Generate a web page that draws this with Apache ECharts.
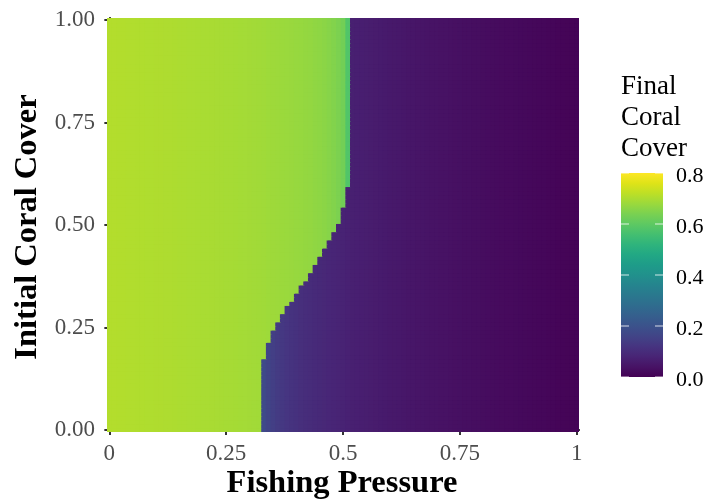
<!DOCTYPE html>
<html>
<head>
<meta charset="utf-8">
<script src="https://cdn.jsdelivr.net/npm/echarts@6/dist/echarts.min.js"></script>
<style>
  html, body { margin: 0; background: #fff; }
  #main { width: 711px; height: 502px; }
</style>
</head>
<body>
<div id="main"></div>
<script>
// grid step (both axes) is 0.01, 0..1
var gridStep = 0.01;

// final coral cover of the coral-dominated state, fishing pressure 0.00 .. 0.51
var highCover = [
  0.708, 0.708, 0.707, 0.707, 0.706, 0.706, 0.705, 0.705, 0.704, 0.704,
  0.703, 0.703, 0.702, 0.702, 0.701, 0.700, 0.700, 0.699, 0.699, 0.698,
  0.697, 0.697, 0.696, 0.695, 0.694, 0.693, 0.693, 0.692, 0.691, 0.690,
  0.689, 0.688, 0.687, 0.686, 0.684, 0.683, 0.682, 0.680, 0.679, 0.677,
  0.675, 0.674, 0.672, 0.670, 0.667, 0.664, 0.661, 0.656, 0.650, 0.642,
  0.628, 0.580
];

// final coral cover of the algae-dominated state, fishing pressure 0.33 .. 1.00
var lowStartX = 0.33;
var lowCover = [
  0.176, 0.160, 0.148, 0.138, 0.130, 0.123, 0.117,
  0.112, 0.107, 0.103, 0.099, 0.095, 0.092, 0.089, 0.086, 0.083, 0.080,
  0.077, 0.074, 0.071, 0.069, 0.067, 0.065, 0.063, 0.061, 0.059, 0.057,
  0.055, 0.053, 0.052, 0.050, 0.048, 0.047, 0.045, 0.044, 0.042, 0.041,
  0.039, 0.038, 0.037, 0.035, 0.034, 0.033, 0.031, 0.030, 0.029, 0.028,
  0.026, 0.025, 0.024, 0.023, 0.022, 0.021, 0.020, 0.019, 0.018, 0.017,
  0.016, 0.015, 0.014, 0.013, 0.012, 0.011, 0.010, 0.009, 0.008, 0.007,
  0.006
];

// tipping point: rows up to boundaryYMax[k] collapse from fishing pressure boundaryX[k]
var boundaryYMax = [0.17, 0.21, 0.24, 0.26, 0.28, 0.30, 0.31, 0.33, 0.35, 0.36,
                    0.38, 0.40, 0.42, 0.44, 0.46, 0.48, 0.50, 0.54, 0.59, 1.00];
var boundaryX    = [0.33, 0.34, 0.35, 0.36, 0.37, 0.38, 0.39, 0.40, 0.41, 0.42,
                    0.43, 0.44, 0.45, 0.46, 0.47, 0.48, 0.49, 0.50, 0.51, 0.52];

var xTicks = [0, 0.25, 0.5, 0.75, 1];
var yTicks = [0, 0.25, 0.5, 0.75, 1];
var legendTicks = [0, 0.2, 0.4, 0.6, 0.8];

var viridis = ['#440154', '#471365', '#482475', '#463480', '#414487', '#3b528b',
  '#355f8d', '#2f6c8e', '#2a788e', '#25848e', '#21918c', '#1e9c89', '#22a884',
  '#2fb47c', '#44bf70', '#5ec962', '#7ad151', '#9bd93c', '#bddf26', '#dfe318', '#fde725'];

// build cells
var cells = [];
for (var r = 0; r <= 100; r++) {
  var y = r / 100;
  var startX = boundaryX[boundaryX.length - 1];
  for (var k = 0; k < boundaryYMax.length; k++) {
    if (y <= boundaryYMax[k] + 1e-9) { startX = boundaryX[k]; break; }
  }
  var startCol = Math.round(startX * 100);
  var lowCol0 = Math.round(lowStartX * 100);
  for (var c = 0; c <= 100; c++) {
    var v = c < startCol ? highCover[c] : lowCover[c - lowCol0];
    cells.push([c / 100, y, v]);
  }
}

var serif = '"Liberation Serif", "Times New Roman", serif';

function renderCell(params, api) {
  var x = api.value(0), y = api.value(1);
  var p0 = api.coord([x - gridStep / 2, y + gridStep / 2]);
  var p1 = api.coord([x + gridStep / 2, y - gridStep / 2]);
  return {
    type: 'rect',
    shape: { x: p0[0], y: p0[1], width: p1[0] - p0[0] + 1, height: p1[1] - p0[1] + 1 },
    style: { fill: api.visual('color') }
  };
}

// colour bar (legend)
var barX = 621, barY = 173, barW = 42, barH = 204, barMax = 0.8;
var stops = viridis.map(function (col, i) {
  return { offset: i / (viridis.length - 1), color: col };
});
var graphics = [
  {
    type: 'rect', left: barX, top: barY,
    shape: { width: barW, height: barH },
    style: { fill: { type: 'linear', x: 0, y: 1, x2: 0, y2: 0, colorStops: stops } }
  },
  {
    type: 'text', x: 621, y: 71,
    style: { text: 'Final\nCoral\nCover', font: '27px ' + serif, fill: '#000',
             lineHeight: 31, textVerticalAlign: 'top' }
  },
  {
    type: 'text', x: 342, y: 484,
    style: { text: 'Fishing Pressure', font: 'bold 32.5px ' + serif, fill: '#000',
             textAlign: 'center', textVerticalAlign: 'middle' }
  },
  {
    type: 'text', x: 28, y: 227, rotation: Math.PI / 2,
    style: { text: 'Initial Coral Cover', font: 'bold 32.5px ' + serif, fill: '#000',
             textAlign: 'center', textVerticalAlign: 'middle' }
  }
];
legendTicks.forEach(function (t) {
  var ty = barY + barH - t / barMax * barH;
  graphics.push({ type: 'line', shape: { x1: barX, y1: ty, x2: barX + 8, y2: ty },
                  style: { stroke: 'rgba(255,255,255,0.8)', lineWidth: 1 } });
  graphics.push({ type: 'line', shape: { x1: barX + barW - 8, y1: ty, x2: barX + barW, y2: ty },
                  style: { stroke: 'rgba(255,255,255,0.8)', lineWidth: 1 } });
  graphics.push({ type: 'text', x: 676, y: ty + 3,
                  style: { text: t.toFixed(1), font: '22px ' + serif, fill: '#000',
                           textVerticalAlign: 'middle' } });
});

var chart = echarts.init(document.getElementById('main'));
chart.setOption({
  animation: false,
  backgroundColor: '#fff',
  grid: { left: 107, right: 132, top: 18, bottom: 70, containLabel: false },
  xAxis: {
    type: 'value', min: -0.005, max: 1.005,
    splitLine: { show: false },
    axisLine: { lineStyle: { color: '#000', width: 2 } },
    axisTick: { customValues: xTicks, length: 5, lineStyle: { color: '#333', width: 2 } },
    axisLabel: {
      customValues: xTicks, margin: 10, color: '#4d4d4d', fontFamily: serif, fontSize: 23,
      formatter: function (v) { return String(v); }
    }
  },
  yAxis: {
    type: 'value', min: -0.005, max: 1.005,
    splitLine: { show: false },
    axisLine: { lineStyle: { color: '#000', width: 2 } },
    axisTick: { customValues: yTicks, length: 5, lineStyle: { color: '#333', width: 2 } },
    axisLabel: {
      customValues: yTicks, margin: 12, color: '#4d4d4d', fontFamily: serif, fontSize: 23,
      formatter: function (v) { return v.toFixed(2); }
    }
  },
  visualMap: {
    show: false, type: 'continuous', min: 0, max: barMax, dimension: 2, seriesIndex: 0,
    inRange: { color: viridis }
  },
  series: [{
    type: 'custom',
    renderItem: renderCell,
    data: cells,
    clip: true,
    progressive: 0,
    encode: { x: 0, y: 1 },
    z: 1
  }],
  graphic: graphics
});
</script>
</body>
</html>
